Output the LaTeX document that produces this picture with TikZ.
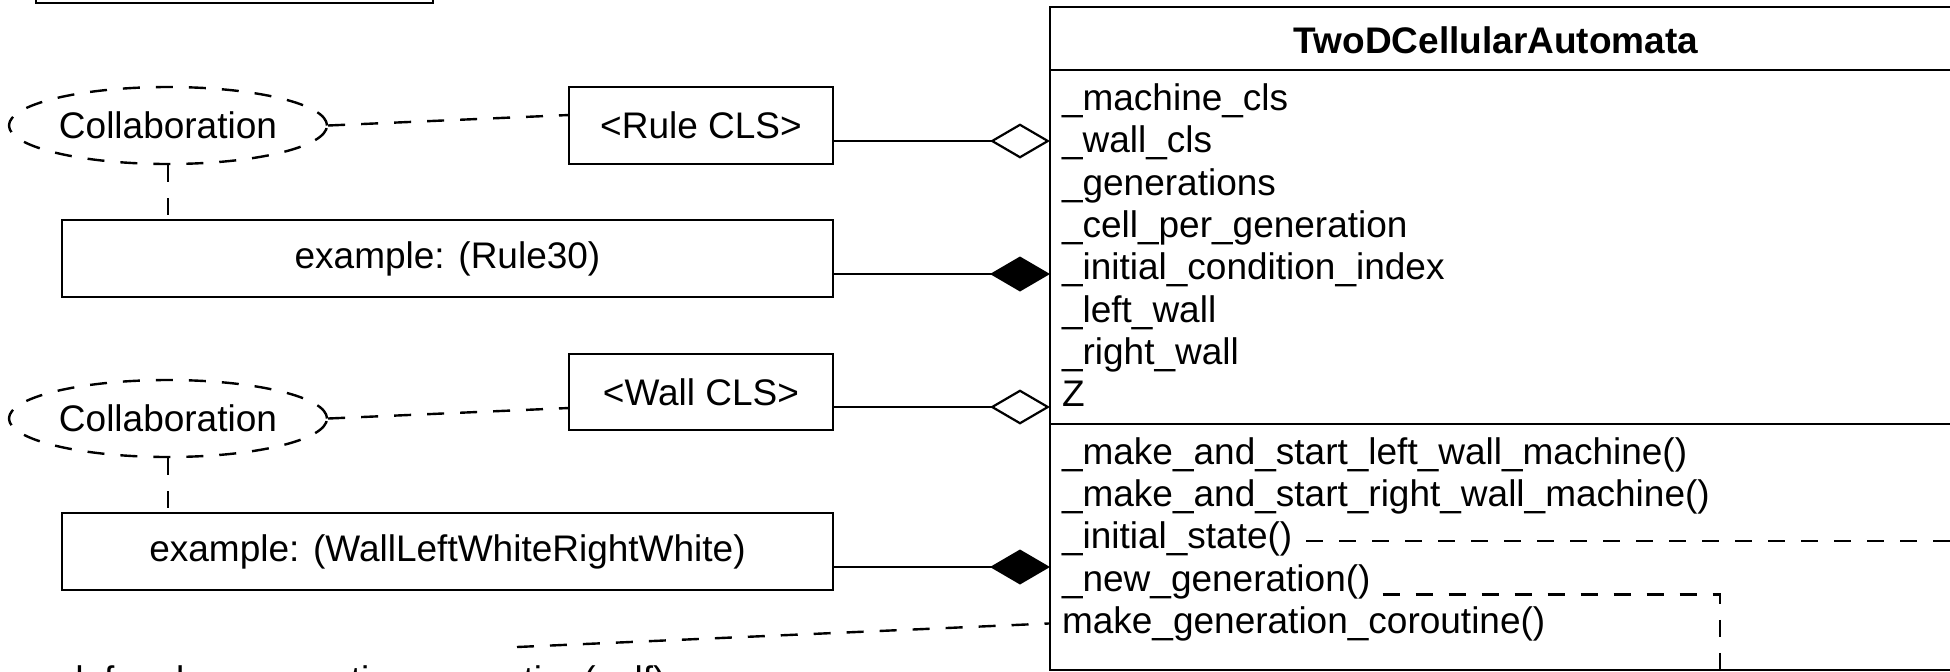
\documentclass[tikz,border=0pt]{standalone}
\usepackage{fontspec}
\setmainfont{Liberation Sans}
\usetikzlibrary{arrows.meta,shapes.geometric,calc}
\begin{document}
\begin{tikzpicture}[x=0.5pt,y=-0.5pt,
  font=\fontsize{18.5}{22}\selectfont,
  box/.style={draw, line width=1.3pt, rectangle, inner sep=0pt, outer sep=0pt},
  dsh/.style={draw, line width=1.2pt, dash pattern=on 8.5pt off 8pt},
  conn/.style={line width=1.1pt},
  agg/.style={conn, -{Diamond[open, length=30pt, width=17.5pt]}},
  comp/.style={conn, -{Diamond[length=30pt, width=17.5pt]}},
  txt/.style={inner sep=0pt, outer sep=0pt, anchor=base west},
]
\useasboundingbox (0,0) rectangle (1950,671);

% legend box cut at top
\node[box, minimum width=198.5pt, minimum height=40pt, anchor=south west] (legend) at (36,3) {};

% left side
\node[dsh, ellipse, minimum width=159pt, minimum height=38.5pt, inner sep=0pt] (collab1) at (168,125.5) {Collaboration};
\node[box, minimum width=132pt, minimum height=38.5pt] (rule) at (701,125.5) {<Rule CLS>};
\node[box, minimum width=385.5pt, minimum height=38.5pt] (ex1) at (447.5,258.5) {example: (Rule30)};
\node[dsh, ellipse, minimum width=159pt, minimum height=38.5pt, inner sep=0pt] (collab2) at (168,418.5) {Collaboration};
\node[box, minimum width=132pt, minimum height=38pt] (wall) at (701,392) {<Wall CLS>};
\node[box, minimum width=385.5pt, minimum height=38.5pt] (ex2) at (447.5,551.5) {example: (WallLeftWhiteRightWhite)};

% class box
\node[box, anchor=north west, minimum width=460pt, minimum height=331.5pt] (cls) at (1050,7) {};
\coordinate (d1) at (1050,70);
\coordinate (d2) at (1050,424);
\draw[line width=1.3pt] (d1) -- (d1 -| cls.east);
\draw[line width=1.3pt] (d2) -- (d2 -| cls.east);
\node[inner sep=0pt, anchor=base, font=\fontsize{18.5}{22}\selectfont\bfseries] (title) at (1496,53) {TwoDCellularAutomata};

\node[txt] (a1) at (1062,110) {\_machine\_cls};
\node[txt] (a2) at (1062,152) {\_wall\_cls};
\node[txt] (a3) at (1062,195) {\_generations};
\node[txt] (a4) at (1062,237) {\_cell\_per\_generation};
\node[txt] (a5) at (1062,279) {\_initial\_condition\_index};
\node[txt] (a6) at (1062,322) {\_left\_wall};
\node[txt] (a7) at (1062,364) {\_right\_wall};
\node[txt] (a8) at (1062,406) {Z};

\node[txt] (m1) at (1062,464) {\_make\_and\_start\_left\_wall\_machine()};
\node[txt] (m2) at (1062,506) {\_make\_and\_start\_right\_wall\_machine()};
\node[txt] (m3) at (1062,548) {\_initial\_state()};
\node[txt] (m4) at (1062,591) {\_new\_generation()};
\node[txt] (m5) at (1062,633) {make\_generation\_coroutine()};

% bottom text (cut by the lower edge, as in the reference)
\node[txt] (defn) at (63,692) {def make\_generation\_coroutine(self)};

% collaboration connectors
\draw[dsh] (collab1.east) -- ($(rule.west)+(0,-10.5)$);
\draw[dsh] (collab1.south) -- (ex1.north -| collab1.south);
\draw[dsh] (collab2.east) -- ($(wall.west)+(0,16)$);
\draw[dsh] (collab2.south) -- (ex2.north -| collab2.south);

% aggregations / compositions
\coordinate (r1) at ($(rule.east)+(0,15.5)$);
\draw[agg] (r1) -- (r1 -| cls.west);
\coordinate (r2) at ($(ex1.east)+(0,15.5)$);
\draw[comp] (r2) -- (r2 -| cls.west);
\coordinate (r3) at ($(wall.east)+(0,15)$);
\draw[agg] (r3) -- (r3 -| cls.west);
\coordinate (r4) at ($(ex2.east)+(0,15.5)$);
\draw[comp] (r4) -- (r4 -| cls.west);

% note connectors
\coordinate (defattach) at (517,647);
\draw[dsh] (defattach) -- (m5.west -| cls.west);
\coordinate (edgeR) at (1960,0);
\coordinate (turn) at (1720,0);
\coordinate (bottomEdge) at (0,680);
\draw[dsh] ($(m3.east)+(14,2.5)$) coordinate (s3) -- (s3 -| edgeR);
\draw[dsh] ($(m4.east)+(12,13)$) coordinate (s4) -- (s4 -| turn) -- (turn |- bottomEdge);
\end{tikzpicture}
\end{document}
